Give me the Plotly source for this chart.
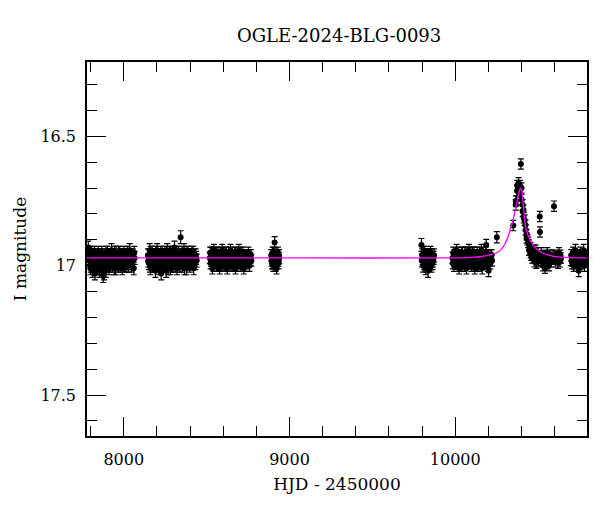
import plotly.graph_objects as go

# ---- data (HJD-2450000, I mag) ----
season_2017 = [(7786,16.93),(7791,16.98),(7796,16.96),(7801,17.00),(7806,16.95),(7811,17.02),(7816,16.97),
               (7821,16.99),(7826,17.03),(7831,16.96),(7836,16.98),(7841,17.01),(7846,16.95),(7851,16.97),
               (7856,17.01),(7861,16.99),(7866,16.96),(7871,17.00),(7876,17.04),(7881,17.03),(7886,16.98),
               (7891,17.02),(7896,16.97),(7901,16.95),(7906,16.99),(7911,17.01),(7916,16.96),(7921,16.98),
               (7926,16.94),(7931,17.00),(7936,16.97),(7941,16.99),(7946,16.95),(7951,17.01),(7956,16.98),
               (7961,16.96),(7966,17.00),(7971,16.97),(7976,16.95),(7981,16.99),(7986,16.96),(7991,17.01),
               (7996,16.98),(8001,16.95),(8006,16.97),(8012,17.00),(8018,16.96),(8024,16.99),(8030,16.97),
               (8036,16.94),(8042,16.98),(8048,17.00),(8054,16.96),(8060,17.01),(8065,16.97),
               (7788,16.97),(7793,16.95),(7798,17.01),(7803,16.97),(7808,16.99),(7813,16.96),(7818,17.00),
               (7823,16.95),(7828,16.98),(7833,17.00),(7838,16.96),(7843,16.97),(7848,16.99),(7853,17.02),
               (7858,16.96),(7863,16.98),(7868,16.95),(7873,16.98),(7878,17.00),(7883,16.96),(7888,16.99),
               (7893,16.95),(7898,17.00),(7903,16.98),(7908,16.96),(7913,16.97),(7918,17.00),(7923,16.96),
               (7928,16.99),(7933,16.96),(7938,16.98),(7943,17.01),(7948,16.97),(7953,16.95),(7958,16.99),
               (7963,16.97),(7968,16.95),(7973,16.99),(7978,17.00),(7983,16.97),(7988,16.98),(7993,16.96),
               (7998,16.99),(8003,17.00),(8009,16.96),(8015,16.98),(8021,16.95),(8027,17.00),(8033,16.98),
               (8039,16.96),(8045,16.99),(8051,16.97),(8057,16.98),(8063,16.95)]
season_2018 = [(8146,16.96),(8151,16.99),(8156,16.94),(8161,17.01),(8166,16.97),(8171,16.95),(8176,17.00),
               (8181,16.98),(8186,16.96),(8191,17.02),(8196,16.97),(8201,16.94),(8206,16.99),(8211,17.01),
               (8216,16.96),(8221,16.98),(8226,17.03),(8231,16.95),(8236,16.97),(8241,17.00),(8246,16.96),
               (8251,16.99),(8256,17.02),(8261,16.94),(8266,16.97),(8271,16.99),(8276,16.95),(8281,17.01),
               (8286,16.98),(8291,16.96),(8296,17.00),(8301,16.97),(8306,16.93),(8311,16.99),(8316,16.96),
               (8321,17.01),(8326,16.98),(8331,16.95),(8336,16.97),(8343,16.89),(8348,16.96),(8353,17.00),
               (8358,16.97),(8363,16.94),(8368,16.99),(8373,16.96),(8378,17.01),(8383,16.98),(8388,16.95),
               (8393,16.97),(8398,17.00),(8403,16.96),(8408,16.99),(8413,16.97),(8418,16.95),(8422,17.01),
               (8428,16.98),(8434,16.96),(8440,16.98),
               (8148,16.98),(8153,16.96),(8158,17.00),(8163,16.95),(8168,16.99),(8173,16.97),(8178,16.96),
               (8183,17.00),(8188,16.97),(8193,16.95),(8198,16.99),(8203,16.97),(8208,16.96),(8213,16.98),
               (8218,17.00),(8223,16.95),(8228,16.98),(8233,17.00),(8238,16.96),(8243,16.98),(8248,16.95),
               (8253,16.97),(8258,16.99),(8263,16.97),(8268,17.01),(8273,16.96),(8278,16.98),(8283,16.95),
               (8288,17.00),(8293,16.97),(8298,16.95),(8303,16.99),(8308,16.97),(8313,17.00),(8318,16.95),
               (8323,16.97),(8328,16.99),(8333,16.96),(8338,17.00),(8346,16.98),(8351,16.95),(8356,16.99),
               (8361,16.97),(8366,17.01),(8371,16.96),(8376,16.98),(8381,16.95),(8386,16.99),(8391,16.97),
               (8396,16.96),(8401,16.99),(8406,16.97),(8411,16.95),(8416,16.99),(8425,16.96),(8431,16.99),
               (8437,16.97)]
season_2019 = [(8519,16.97),(8524,16.99),(8529,16.95),(8534,17.01),(8539,16.97),(8544,16.94),(8549,16.99),
               (8554,16.96),(8559,17.00),(8564,16.98),(8569,16.95),(8574,16.97),(8579,17.01),(8584,16.96),
               (8589,16.99),(8594,16.94),(8599,16.98),(8604,17.00),(8609,16.96),(8614,16.97),(8619,16.95),
               (8624,17.01),(8629,16.98),(8634,16.96),(8639,16.99),(8644,16.94),(8649,16.97),(8654,17.00),
               (8659,16.96),(8664,16.98),(8669,16.95),(8674,17.01),(8679,16.97),(8684,16.99),(8689,16.96),
               (8694,16.94),(8699,16.98),(8704,17.00),(8709,16.96),(8714,16.97),(8719,16.95),(8724,17.01),
               (8729,16.98),(8734,16.96),(8740,16.99),(8746,16.97),(8752,16.95),(8758,17.00),(8764,16.97),
               (8770,16.98),
               (8521,16.95),(8526,16.98),(8531,16.97),(8536,16.95),(8541,17.00),(8546,16.97),(8551,16.96),
               (8556,16.98),(8561,16.95),(8566,17.00),(8571,16.97),(8576,16.96),(8581,16.98),(8586,16.95),
               (8591,17.00),(8596,16.97),(8601,16.96),(8606,16.98),(8611,17.00),(8616,16.95),(8621,16.98),
               (8626,16.96),(8631,16.99),(8636,16.97),(8641,16.95),(8646,17.00),(8651,16.96),(8656,16.98),
               (8661,17.00),(8666,16.96),(8671,16.98),(8676,16.95),(8681,16.97),(8686,17.00),(8691,16.98),
               (8696,16.96),(8701,16.97),(8706,16.95),(8711,16.99),(8716,16.98),(8721,16.96),(8726,16.97),
               (8731,17.00),(8737,16.96),(8743,16.98),(8749,16.97),(8755,16.96),(8761,16.98),(8767,16.96)]
season_2020 = [(8890,16.96),(8894,16.99),(8898,16.95),(8902,17.00),(8906,16.97),(8910,16.91),(8914,16.98),
               (8918,16.96),(8922,17.01),(8926,16.97),(8930,16.95),(8934,16.99),(8938,16.97),
               (8892,16.98),(8896,16.97),(8900,16.99),(8904,16.95),(8908,16.97),(8912,16.96),(8916,17.00),
               (8920,16.97),(8924,16.98),(8928,16.96),(8932,16.98),(8936,16.96)]
season_2022 = [(9796,16.92),(9801,16.96),(9806,17.00),(9811,16.97),(9816,16.95),(9821,17.01),(9826,16.98),
               (9831,16.96),(9836,17.02),(9841,16.97),(9846,16.99),(9851,16.95),(9856,17.00),(9861,16.97),
               (9866,16.98),(9872,16.96),
               (9798,16.98),(9803,16.97),(9808,16.95),(9813,16.99),(9818,16.97),(9823,16.96),(9828,17.00),
               (9833,16.98),(9838,16.96),(9843,16.98),(9848,16.97),(9853,16.99),(9858,16.96),(9863,16.99),
               (9869,16.97)]
season_2023 = [(9983,16.97),(9988,16.95),(9993,17.00),(9998,16.96),(10003,16.98),(10008,16.94),(10013,16.99),
               (10018,16.97),(10023,17.01),(10028,16.96),(10033,16.98),(10038,16.95),(10043,17.00),(10048,16.97),
               (10053,16.99),(10058,16.95),(10063,16.98),(10068,17.01),(10073,16.96),(10078,16.97),(10083,16.94),
               (10088,16.99),(10093,16.97),(10098,17.00),(10103,16.96),(10108,16.98),(10113,16.95),(10118,17.01),
               (10123,16.97),(10128,16.99),(10133,16.95),(10138,16.98),(10143,17.00),(10148,16.96),(10153,16.97),
               (10158,16.94),(10163,17.01),(10168,16.98),(10173,16.96),(10178,16.99),(10183,16.95),(10187,16.92),
               (10192,16.98),(10197,17.00),(10201,17.02),(10206,16.97),(10211,16.99),(10216,16.96),(10222,16.98),
               (9985,16.99),(9990,16.97),(9995,16.96),(10000,16.99),(10005,16.96),(10010,16.98),(10015,16.95),
               (10020,16.98),(10025,16.96),(10030,17.00),(10035,16.97),(10040,16.98),(10045,16.95),(10050,16.97),
               (10055,17.00),(10060,16.97),(10065,16.95),(10070,16.98),(10075,16.99),(10080,16.96),(10085,16.98),
               (10090,16.95),(10095,16.97),(10100,16.98),(10105,16.95),(10110,16.99),(10115,16.97),(10120,16.96),
               (10125,16.98),(10130,16.96),(10135,17.00),(10140,16.96),(10145,16.97),(10150,16.99),(10155,16.95),
               (10160,16.97),(10165,16.96),(10170,16.99),(10175,16.97),(10180,16.98),(10190,16.96),(10195,16.98),
               (10203,16.96),(10208,16.98),(10213,16.97),(10219,16.96),
               (10251,16.89)]
season_2024 = [(10350,16.845),(10365,16.765),(10366,16.75),(10373,16.71),(10374,16.69),(10382,16.68),
               (10383,16.715),(10390,16.69),(10391,16.725),(10396,16.607),(10400,16.70),(10401,16.745),
               (10406,16.765),(10407,16.79),(10412,16.785),(10413,16.815),(10418,16.825),(10424,16.843),
               (10425,16.862),(10430,16.88),(10431,16.893),(10436,16.90),(10445,16.92),(10446,16.94),
               (10454,16.93),(10455,16.95),(10463,16.948),(10464,16.97),(10475,16.96),(10476,16.94),
               (10477,16.985),(10487,16.94),(10488,16.97),(10489,16.99),(10499,16.963),(10500,16.985),
               (10510,16.81),(10511,16.87),(10518,16.98),(10519,16.95),(10530,17.00),(10531,16.97),
               (10542,17.01),(10543,16.96),(10554,16.98),(10555,16.95),(10566,17.00),(10567,16.97),
               (10578,16.985),(10584,16.96),(10596,16.77),(10602,16.96),(10603,16.985),(10614,16.97),
               (10620,16.99),(10626,16.95),(10632,16.985),(10638,16.97),
               (10440,16.91),(10450,16.935),(10458,16.96),(10468,16.955),(10482,16.97),(10494,16.95),
               (10505,16.97),(10524,16.965),(10536,16.98),(10548,16.97),(10560,16.985),(10572,16.96),
               (10590,16.975),(10608,16.965),(10635,16.96)]
season_2025 = [(10700,16.96),(10705,16.99),(10710,16.95),(10715,17.00),(10720,16.97),(10725,16.94),
               (10730,16.98),(10735,16.96),(10740,17.00),(10745,17.02),(10750,16.97),(10755,16.95),
               (10760,16.99),(10765,16.96),(10770,16.98),(10775,16.94),(10780,17.00),(10786,16.97),
               (10792,16.96),(10702,16.98),(10712,16.97),(10722,16.99),(10732,16.96),(10742,16.97),
               (10752,16.99),(10762,16.97),(10772,16.96),(10782,16.98)]
seasons = [season_2017, season_2018, season_2019, season_2020, season_2022, season_2023, season_2024, season_2025]
season_errors = [0.025, 0.025, 0.022, 0.022, 0.025, 0.022, 0.02, 0.022]

model_hjd = [7778, 9000, 10000, 10100, 10200, 10250, 10280, 10300, 10320, 10335, 10350, 10362, 10372,
             10382, 10390, 10396, 10402, 10408, 10414, 10420, 10428, 10438, 10450, 10465, 10480, 10500,
             10530, 10570, 10620, 10700, 10795]
model_mag = [16.97, 16.97, 16.97, 16.968, 16.96, 16.95, 16.935, 16.915, 16.885, 16.855, 16.82, 16.785,
             16.755, 16.725, 16.705, 16.70, 16.71, 16.745, 16.79, 16.83, 16.86, 16.88, 16.90, 16.915,
             16.928, 16.94, 16.952, 16.96, 16.966, 16.969, 16.97]

x_range = [7778, 10795]
y_range = [17.658, 16.213]

FONT = "DejaVu Serif"

fig = go.Figure()
for s, e in zip(seasons, season_errors):
    t = [p[0] for p in s]
    m = [p[1] for p in s]
    fig.add_trace(go.Scatter(
        x=t, y=m, mode="markers",
        marker=dict(color="black", size=6),
        error_y=dict(type="constant", value=e, color="black", thickness=1.2, width=3),
        showlegend=False, hoverinfo="skip"))

fig.add_trace(go.Scatter(x=model_hjd, y=model_mag, mode="lines",
                         line=dict(color="#ff00ff", width=1.3, shape="spline", smoothing=0.6),
                         showlegend=False, hoverinfo="skip"))

axis_common = dict(
    showline=True, linecolor="black", linewidth=1.5, mirror="ticks",
    ticks="inside", ticklen=19, tickwidth=1, tickcolor="black",
    showgrid=False, zeroline=False, automargin=False,
    tickfont=dict(family=FONT, size=16, color="black"),
)

fig.update_xaxes(
    range=x_range, dtick=1000, tick0=0, tickformat="d",
    minor=dict(ticks="inside", ticklen=10, dtick=200, tick0=0, tickcolor="black", tickwidth=1),
    title=dict(text="HJD - 2450000", font=dict(family=FONT, size=17, color="black"), standoff=10),
    ticklabelstandoff=8,
    **axis_common)
fig.update_yaxes(
    range=y_range, dtick=0.5, tick0=0,
    minor=dict(ticks="inside", ticklen=10, dtick=0.1, tick0=0, tickcolor="black", tickwidth=1),
    title=dict(text="I magnitude", font=dict(family=FONT, size=17, color="black"), standoff=9),
    ticklabelstandoff=6,
    **axis_common)

# the page body has an 8px default margin, so the figure is sized to fit inside it
fig.update_layout(
    width=584, height=496,
    margin=dict(l=79, r=5, t=54, b=68),
    paper_bgcolor="white", plot_bgcolor="white",
    title=dict(text="OGLE-2024-BLG-0093", x=0.567, xanchor="center", y=0.945, yanchor="middle",
               font=dict(family=FONT, size=18, color="black")),
)

fig.write_html("out.html")
